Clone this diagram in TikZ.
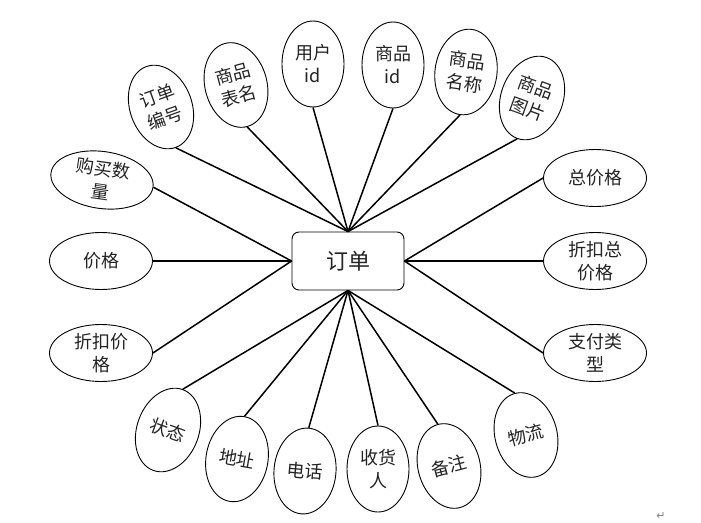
\documentclass[tikz,border=0pt]{standalone}
\usepackage{fontspec}
\setmainfont{Noto Sans CJK SC}
\newfontfamily\symfont{DejaVu Sans}
\usepackage{tikz}
\usetikzlibrary{shapes.geometric}
\definecolor{ink}{RGB}{35,35,35}

\tikzset{
  attr/.style={draw, ellipse, line width=0.9pt, fill=white, inner sep=0pt,
    align=center, text=ink, font=\fontsize{18}{23}\selectfont},
  tallattr/.style={attr, minimum width=62pt, minimum height=86pt},
  wideattr/.style={attr, minimum width=103pt, minimum height=57pt},
  entity/.style={draw, rounded corners=7pt, line width=0.9pt, fill=white,
    minimum width=112pt, minimum height=58pt, text=ink, font=\fontsize{22}{26}\selectfont},
  link/.style={line width=1.5pt}
}

\begin{document}
\begin{tikzpicture}[x=1pt, y=-1pt]
  \useasboundingbox (0,0) rectangle (701,522);

  \node[entity] (order) at (348,261) {订单};

  % top attributes
  \foreach \name/\pos/\ang/\txt in {
      orderno/{(161,107)}/20/{订单\\编号},
      tablename/{(236,85)}/15/{商品\\表名},
      userid/{(313,64)}/0/{用户\\id},
      goodsid/{(393,65)}/0/{商品\\id},
      goodsname/{(466,72)}/-8/{商品\\名称},
      goodspic/{(532,98)}/-20/{商品\\图片}} {
    \node[tallattr, rotate=\ang] (\name) at \pos {\txt};
    \draw[link] (order.north) -- (\name.south);
  }

  % left attributes
  \foreach \name/\pos/\ang/\txt in {
      buynum/{(102,180)}/-8/{购买数\\量},
      price/{(101,261)}/0/{价格},
      discprice/{(101,353)}/0/{折扣价\\格}} {
    \node[wideattr, rotate=\ang] (\name) at \pos {\txt};
    \draw[link] (order.west) -- (\name.east);
  }

  % right attributes
  \foreach \name/\pos/\txt in {
      total/{(595,178)}/{总价格},
      disctotal/{(595,261)}/{折扣总\\价格},
      paytype/{(595,353)}/{支付类\\型}} {
    \node[wideattr] (\name) at \pos {\txt};
    \draw[link] (order.east) -- (\name.west);
  }

  % bottom attributes
  \foreach \name/\pos/\ang/\txt in {
      state/{(168,430)}/-20/{状态},
      addr/{(237,459)}/-10/{地址},
      phone/{(305,471)}/-5/{电话},
      receiver/{(378,469)}/0/{收货\\人},
      remark/{(449,466)}/15/{备注},
      logistics/{(526,435)}/15/{物流}} {
    \node[tallattr, rotate=\ang] (\name) at \pos {\txt};
    \draw[link] (order.south) -- (\name.north);
  }

  \node[text=gray, font=\symfont\fontsize{11}{11}\selectfont] (mark) at (661,516) {↵};
\end{tikzpicture}
\end{document}
